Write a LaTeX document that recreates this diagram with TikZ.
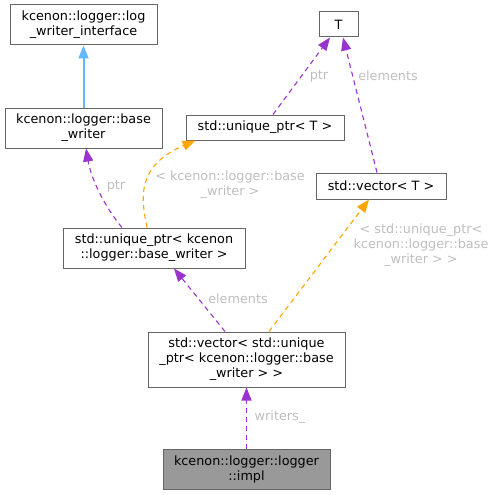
\documentclass[tikz,border=0pt]{standalone}
\usepackage{fontspec}
\setmainfont{DejaVu Sans}
\usetikzlibrary{arrows.meta}

\definecolor{boxgray}{HTML}{666666}
\definecolor{curgray}{HTML}{999999}
\definecolor{lblgray}{HTML}{BEBEBE}
\definecolor{edgepurple}{HTML}{9A32CD}
\definecolor{edgeorange}{HTML}{FFA500}
\definecolor{edgeblue}{HTML}{63B8FF}

\begin{document}
\begin{tikzpicture}[
  x=1pt, y=-1pt,
  font=\fontsize{12.8}{15}\selectfont,
  cls/.style={rectangle, draw=boxgray, line width=1pt, fill=white, inner sep=2pt, align=center},
  cur/.style={cls, fill=curgray},
  lbl/.style={text=lblgray, align=center, inner sep=0pt},
  inh/.style={-{Triangle[length=13pt,width=10pt]}, draw=edgeblue, line width=2pt},
  use/.style={-{Triangle[length=13pt,width=10pt]}, draw=edgepurple, line width=1.1pt, dash pattern=on 5pt off 4pt},
  tpl/.style={use, draw=edgeorange}
]
\useasboundingbox (0,0) rectangle (495,495);

\node[cls, minimum width=147pt, minimum height=40pt] (lwi)  at (83.5,25)    {kcenon::logger::log\\\_writer\_interface};
\node[cls, minimum width=157pt, minimum height=40pt] (bw)   at (83.5,128)   {kcenon::logger::base\\\_writer};
\node[cls, minimum width=39pt,  minimum height=25pt] (T)    at (338.5,24.5) {T};
\node[cls, minimum width=158pt, minimum height=25pt] (upT)  at (265,127.5)  {std::unique\_ptr< T >};
\node[cls, minimum width=130pt, minimum height=26pt] (vT)   at (381,186)    {std::vector< T >};
\node[cls, minimum width=182pt, minimum height=40pt] (upbw) at (154,248)    {std::unique\_ptr< kcenon\\::logger::base\_writer >};
\node[cls, minimum width=197pt, minimum height=55pt] (vup)  at (246.5,359.5) {std::vector< std::unique\\\_ptr< kcenon::logger::base\\\_writer > >};
\node[cur, minimum width=167pt, minimum height=40pt] (impl) at (246.5,469)  {kcenon::logger::logger\\::impl};

% edge labels
\node[lbl] (lptrT)  at (319,76)  {ptr};
\node[lbl] (lelT)   at (388,76)  {elements};
\node[lbl] (lptrbw) at (116,186) {ptr};
\node[lbl] (ltplup) at (230,185) {< kcenon::logger::base\\\_writer >};
\node[lbl] (lelbw)  at (238,299) {elements};
\node[lbl] (ltplv)  at (421,245) {< std::unique\_ptr<\\kcenon::logger::base\\\_writer > >};
\node[lbl] (lwr)    at (280,417) {writers\_};

\draw[inh] (bw.north) -- (lwi.south);
\draw[use] ([xshift=8pt]upT.north) -- ([xshift=-8.5pt]T.south);
\draw[use] ([xshift=-4pt]vT.north) -- ([xshift=4.5pt]T.south);
\draw[use] ([xshift=-32pt]upbw.north) .. controls (104,206) and (91,178) .. ([xshift=2.5pt]bw.south);
\draw[tpl] ([xshift=-7pt]upbw.north) .. controls (141,198) and (136,166) .. ([xshift=10pt]upT.south west);
\draw[use] ([xshift=-21.5pt]vup.north) -- ([xshift=20pt]upbw.south);
\draw[tpl] ([xshift=22.5pt]vup.north) -- ([xshift=-12pt]vT.south);
\draw[use] (impl.north) -- (vup.south);
\end{tikzpicture}
\end{document}
